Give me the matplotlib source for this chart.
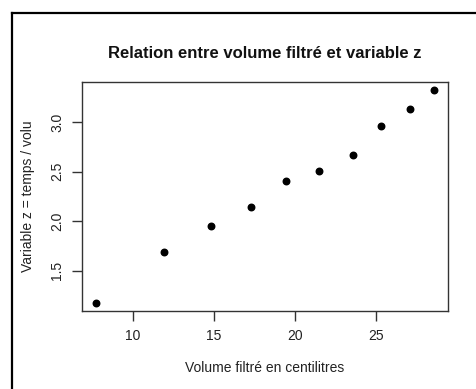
import matplotlib
matplotlib.use("Agg")
import matplotlib.pyplot as plt
from matplotlib.lines import Line2D

# Filtered volume (cl) and z = time / volume
volume = [7.70, 11.89, 14.83, 17.27, 19.46, 21.50, 23.59, 25.28, 27.11, 28.59]
z = [1.179, 1.685, 1.952, 2.142, 2.406, 2.507, 2.669, 2.967, 3.136, 3.321]
xticks = [10, 15, 20, 25]
yticks = [1.5, 2.0, 2.5, 3.0]

plt.rcParams["font.family"] = ["Liberation Sans", "DejaVu Sans"]

W, H = 476, 389
fig = plt.figure(figsize=(W / 100, H / 100), dpi=100)
fig.patch.set_facecolor("white")

# panel frame lines along top and left
fig.add_artist(Line2D([12 / W, 12 / W], [0, 1 - 13 / H], transform=fig.transFigure,
                      color="black", lw=1.6))
fig.add_artist(Line2D([12 / W, 1], [1 - 13 / H, 1 - 13 / H], transform=fig.transFigure,
                      color="black", lw=1.6))

left, right, top, bottom = 82, 448, 82, 311
ax = fig.add_axes([left / W, 1 - bottom / H, (right - left) / W, (bottom - top) / H])

ax.scatter(volume, z, s=22, color="black", zorder=3)

# R-style 4% padding around the data range
xr = max(volume) - min(volume)
yr = max(z) - min(z)
ax.set_xlim(min(volume) - 0.04 * xr, max(volume) + 0.04 * xr)
ax.set_ylim(min(z) - 0.04 * yr, max(z) + 0.04 * yr)

ax.set_xticks(xticks)
ax.set_xticklabels([str(t) for t in xticks])
ax.set_yticks(yticks)
ax.set_yticklabels([f"{t:.1f}" for t in yticks], rotation=90, va="center")

for sp in ax.spines.values():
    sp.set_color("#333333")
    sp.set_linewidth(1.0)

ax.tick_params(axis="both", direction="out", length=7, width=1.0, color="#333333",
               labelsize=10, labelcolor="#222222", pad=6)

ax.set_xlabel("Volume filtré en centilitres", fontsize=10, color="#222222", labelpad=13)
ax.set_ylabel("Variable z = temps / volu", fontsize=10, color="#222222", labelpad=11)
ax.set_title("Relation entre volume filtré et variable z", fontsize=12, fontweight="bold",
             color="#111111", pad=17)

fig.savefig("out.png", dpi=100, facecolor="white")
